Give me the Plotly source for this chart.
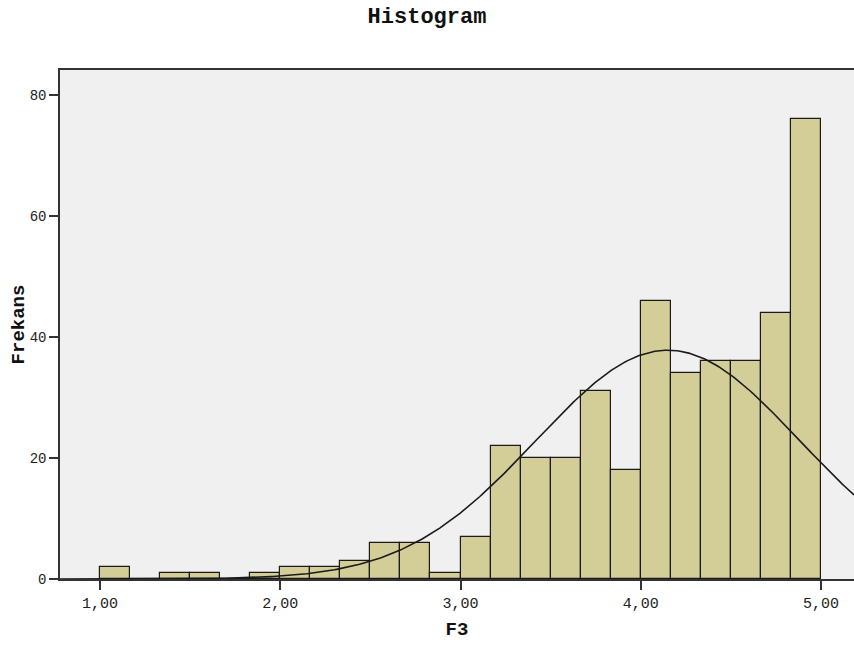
import numpy as np
import plotly.graph_objects as go

# --- data ---
bin_start = 1.0
bin_width = 1.0 / 6.0
counts = [2, 0, 1, 1, 0, 1, 2, 2, 3, 6, 6, 1,
          7, 22, 20, 20, 31, 18, 46, 34, 36, 36, 44, 76]
fit_mean = 4.15
fit_sd = 0.73
n_total = sum(counts)
x_ticks = [1, 2, 3, 4, 5]
y_ticks = [0, 20, 40, 60, 80]

centers = [bin_start + bin_width * (i + 0.5) for i in range(len(counts))]

x_min, x_max = 0.778, 5.183
xs = np.linspace(x_min, x_max, 400)
ys = n_total * bin_width / (fit_sd * np.sqrt(2 * np.pi)) * np.exp(-0.5 * ((xs - fit_mean) / fit_sd) ** 2)

mono = "Courier New, Liberation Mono, monospace"

fig = go.Figure()
fig.add_trace(go.Bar(
    x=centers, y=counts, width=bin_width,
    marker=dict(color="#D3CE97", line=dict(color="#1a1a1a", width=1.2)),
    hoverinfo="x+y", showlegend=False,
))
fig.add_trace(go.Scatter(
    x=xs, y=ys, mode="lines",
    line=dict(color="#1a1a1a", width=1.6),
    showlegend=False, hoverinfo="skip",
))

fig.update_layout(
    width=854, height=645,
    margin=dict(l=60, r=0, t=70, b=66),
    paper_bgcolor="white",
    plot_bgcolor="#F0F0F0",
    separators=",.",
    bargap=0,
    title=dict(text="<b>Histogram</b>", x=0.5, xanchor="center", y=1 - 15 / 645, yanchor="middle",
               font=dict(family=mono, size=22, color="#111")),
    xaxis=dict(
        range=[x_min, x_max], tickvals=x_ticks, tickformat=".2f",
        ticks="outside", ticklen=9, tickwidth=1.5, tickcolor="#333",
        showline=True, linecolor="#333", linewidth=1.5, mirror=True,
        showgrid=False, zeroline=False,
        tickfont=dict(family=mono, size=15, color="#222"),
        title=dict(text="<b>F3</b>", font=dict(family=mono, size=19, color="#111"), standoff=10),
    ),
    yaxis=dict(
        range=[0, 84.1], tickvals=y_ticks,
        ticks="outside", ticklen=9, tickwidth=1.5, tickcolor="#333",
        showline=True, linecolor="#333", linewidth=1.5,
        showgrid=False, zeroline=False,
        tickfont=dict(family=mono, size=14, color="#222"),
        title=dict(text="<b>Frekans</b>", font=dict(family=mono, size=19, color="#111"), standoff=0),
    ),
)

fig.write_html(
    "out.html",
    config={"displayModeBar": False},
    post_script="document.body.style.margin='0';document.body.style.overflow='hidden';",
)
